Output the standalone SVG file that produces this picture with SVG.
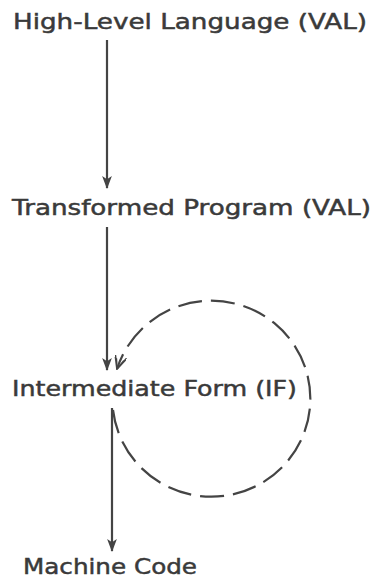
<svg xmlns="http://www.w3.org/2000/svg" width="375" height="580" viewBox="0 0 375 580">
<style>
text{font-family:"DejaVu Sans","Liberation Sans",sans-serif;fill:#3a3a3a;stroke:#3a3a3a;stroke-width:0.5;font-size:22px}
.edge{stroke:#444;stroke-width:2.2;fill:none}
.dash{stroke:#444;stroke-width:2.2;fill:none;stroke-dasharray:24 9}
</style>
<defs>
<marker id="ah" viewBox="0 0 12 10" refX="11" refY="5" markerWidth="13" markerHeight="11" markerUnits="userSpaceOnUse" orient="auto">
<path d="M0,0.5 L12,5 L0,9.5 L3,5 Z" fill="#444"/>
</marker>
<marker id="ahd" viewBox="0 0 14 12" refX="13" refY="6" markerWidth="14" markerHeight="12" markerUnits="userSpaceOnUse" orient="auto">
<path d="M0,0 L13,6 L0,12 M3,2 L13,6 L3,10" fill="none" stroke="#444" stroke-width="1.8"/>
</marker>
</defs>
<rect width="375" height="580" fill="#fff"/>
<g id="n1"><text x="13" y="29" textLength="354" lengthAdjust="spacingAndGlyphs">High-Level Language (VAL)</text></g>
<g id="n2"><text x="12" y="215" textLength="359" lengthAdjust="spacingAndGlyphs">Transformed Program (VAL)</text></g>
<g id="n3"><text x="12" y="396" textLength="285" lengthAdjust="spacingAndGlyphs">Intermediate Form (IF)</text></g>
<g id="n4"><text x="23" y="574" font-size="21" textLength="174" lengthAdjust="spacingAndGlyphs">Machine Code</text></g>
<g id="edges">
<line class="edge" x1="107" y1="40" x2="107" y2="188" marker-end="url(#ah)"/>
<line class="edge" x1="107" y1="227" x2="107" y2="370" marker-end="url(#ah)"/>
<line class="edge" x1="112" y1="408" x2="112" y2="551" marker-end="url(#ah)"/>
<path class="dash" d="M113,410 A99,98 0 1 0 117,369" marker-end="url(#ahd)"/>
</g>
</svg>
